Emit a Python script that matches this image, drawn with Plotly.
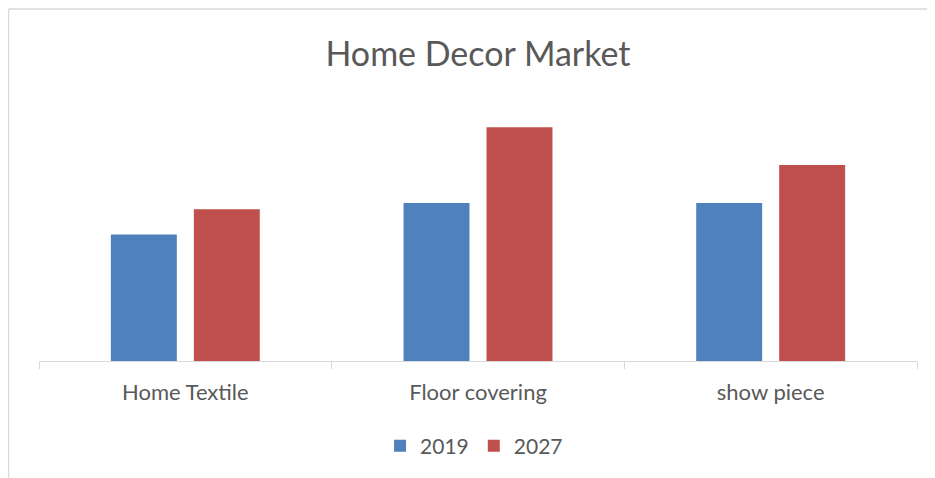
import plotly.graph_objects as go

categories = ["Home Textile", "Floor covering", "show piece"]
values_2019 = [40, 50, 50]
values_2027 = [48, 74, 62]
series_names = ["2019", "2027"]

BLUE = "#4F81BD"
RED = "#C0504D"
TEXT = "#595959"
LINE = "#D9D9D9"
FONT = "Lato"

fig = go.Figure()
fig.add_trace(go.Bar(x=categories, y=values_2019, name=series_names[0],
                     marker=dict(color=BLUE, line=dict(width=0))))
fig.add_trace(go.Bar(x=categories, y=values_2027, name=series_names[1],
                     marker=dict(color=RED, line=dict(width=0))))

fig.update_layout(
    width=935, height=478,
    margin=dict(l=31, r=26, t=92, b=125),
    paper_bgcolor="white", plot_bgcolor="white",
    barmode="group", bargap=0.433, bargroupgap=0.205,
    font=dict(family=FONT, color=TEXT),
    title=dict(text="Home Decor Market", x=0.5, xanchor="center", xref="paper",
               y=1 - 46/478, yanchor="middle", yref="container",
               font=dict(size=34, color=TEXT, family=FONT)),
    showlegend=True,
    legend=dict(orientation="h", x=0.4955, xanchor="center", y=-0.3257, yanchor="middle",
                font=dict(size=21, color=TEXT, family=FONT), itemwidth=30,
                bgcolor="rgba(0,0,0,0)"),
    xaxis=dict(showline=True, linecolor=LINE, linewidth=1.3, ticks="outside",
               tickson="boundaries", ticklen=7, tickcolor=LINE, tickwidth=1.3,
               tickfont=dict(size=22, color=TEXT, family=FONT),
               ticklabelstandoff=11, showgrid=False, zeroline=False, fixedrange=True),
    yaxis=dict(range=[0, 82.6], visible=False, showgrid=False, zeroline=False,
               fixedrange=True),
    shapes=[
        dict(type="line", xref="paper", yref="paper", x0=-0.0347, x1=1.2,
             y0=1.3487, y1=1.3487, line=dict(color=LINE, width=1.3)),
        dict(type="line", xref="paper", yref="paper", x0=-0.0347, x1=-0.0347,
             y0=1.3487, y1=-0.6, line=dict(color=LINE, width=1.3)),
    ],
)

fig.write_html("out.html")
